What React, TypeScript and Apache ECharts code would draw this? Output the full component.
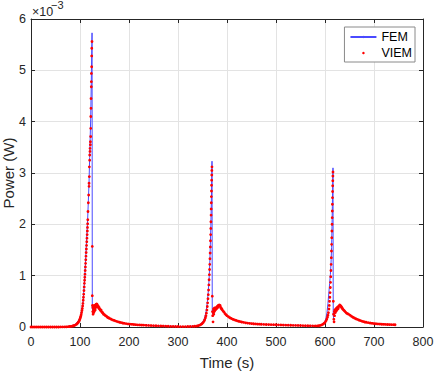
import React, { useEffect, useRef } from "react";
import * as echarts from "echarts";

// Values of power are given in units of 1e-3 W (the axis shows "×10^-3").
const xAxisRange = { min: 0, max: 800, interval: 100 };
const yAxisRange = { min: 0, max: 6, interval: 1 };
const yExponentBase = "×10";
const yExponent = "−3";

// FEM (blue line) — [time (s), power (1e-3 W)]
const femCycle1: [number, number][] = [
  [0, 0], [20, 0], [40, 0.001], [60, 0.003], [70, 0.007], [76, 0.012], [80, 0.017], [85, 0.03], [90, 0.052], [94, 0.085],
  [97, 0.125], [100, 0.185], [102, 0.245], [104, 0.34], [106, 0.48], [108, 0.72], [110, 1.02], [112, 1.42], [114, 1.8],
  [115.6, 2.1], [117, 2.45], [118.4, 2.8], [119.7, 3.3], [120.8, 3.7], [121.8, 4.05], [122.6, 4.5], [123.4, 5.0],
  [124.2, 5.5], [124.6, 5.73], [125.1, 0.35], [125.6, 0.42], [126.2, 0.3], [126.8, 0.38], [127.5, 0.33], [128.5, 0.39],
  [129.5, 0.36], [131, 0.41], [133, 0.43], [135, 0.44], [137, 0.41], [140, 0.36], [144, 0.31], [148, 0.26], [152, 0.22],
  [158, 0.18], [165, 0.14], [175, 0.11], [185, 0.085], [195, 0.066], [210, 0.049], [230, 0.036], [250, 0.026],
  [270, 0.018], [290, 0.012], [310, 0.009], [325, 0.012],
];
const femCycle2: [number, number][] = [
  [334, 0.017], [338, 0.025], [342, 0.038], [346, 0.058], [349, 0.085], [352, 0.125], [354, 0.17], [356, 0.24],
  [358, 0.34], [360, 0.5], [361.5, 0.66], [363, 0.86], [364, 1.04], [365, 1.3], [366, 1.6], [367, 1.98], [368, 2.4],
  [368.8, 2.85], [369.4, 3.23], [369.9, 0.3], [370.5, 0.25], [371.2, 0.33], [372, 0.27], [373, 0.34], [374, 0.31],
  [375.5, 0.36], [377, 0.35], [379, 0.39], [381, 0.4], [383, 0.42], [385, 0.42], [387, 0.39], [390, 0.35], [394, 0.3],
  [398, 0.25], [402, 0.21], [408, 0.17], [415, 0.14], [425, 0.11], [435, 0.09], [445, 0.075], [455, 0.063],
  [470, 0.053], [490, 0.046], [510, 0.04], [530, 0.034], [550, 0.029], [570, 0.023], [582, 0.021],
];
const femCycle3: [number, number][] = [
  [586, 0.024], [590, 0.033], [594, 0.05], [597, 0.072], [600, 0.11], [602, 0.17], [604, 0.28], [606, 0.46],
  [608, 0.68], [609.5, 0.85], [611, 1.02], [612.3, 1.24], [613.4, 1.55], [614.3, 1.95], [615, 2.35], [615.7, 2.75],
  [616.3, 3.1], [616.8, 0.25], [617.4, 0.18], [618.2, 0.28], [619, 0.22], [620, 0.31], [621.5, 0.29], [623, 0.35],
  [625, 0.36], [627, 0.39], [629, 0.41], [631, 0.43], [633, 0.41], [636, 0.37], [640, 0.32], [645, 0.27], [650, 0.235],
  [656, 0.2], [662, 0.168], [670, 0.132], [680, 0.1], [690, 0.081], [700, 0.068], [712, 0.057], [725, 0.05],
  [735, 0.046], [743, 0.044],
];

// VIEM (red dots) — [time (s), power (1e-3 W)]
const viemCycle1: [number, number][] = [
  [0, 0], [4, 0], [8, 0], [12, 0], [16, 0], [20, 0], [24, 0], [28, 0], [32, 0], [36, 0], [40, 0], [44, 0], [48, 0],
  [52, 0], [56, 0], [60, 0.001], [64, 0.002], [68, 0.003], [72, 0.004], [76, 0.006], [79, 0.009], [82, 0.013],
  [85, 0.019], [87, 0.025], [89, 0.032], [91, 0.042], [93, 0.055], [94.5, 0.068], [96, 0.085], [97, 0.1], [98, 0.115],
  [99, 0.135], [100, 0.16], [100.8, 0.185], [101.6, 0.21], [102.4, 0.24], [103.2, 0.28], [104, 0.32], [104.7, 0.36],
  [105.4, 0.41], [106, 0.46], [106.6, 0.52], [107.1, 0.58], [107.6, 0.64], [108.1, 0.71], [108.6, 0.78], [109, 0.85],
  [109.4, 0.91], [109.8, 0.97], [110.2, 1.03], [110.6, 1.1], [111, 1.17], [111.4, 1.24], [111.8, 1.31], [112.2, 1.38],
  [112.6, 1.45], [113, 1.52], [113.4, 1.59], [113.8, 1.66], [114.2, 1.73], [114.6, 1.8], [115, 1.87], [115.3, 1.94],
  [115.6, 2.01], [115.9, 2.09], [116.3, 2.25], [117, 2.42], [117.7, 2.57], [118.4, 2.74], [118.5, 2.8], [119, 2.93],
  [119.1, 3.12], [119.7, 3.25], [119.8, 3.35], [120.4, 3.42], [120.5, 3.48], [121.1, 3.55], [121.2, 3.61],
  [121.8, 3.71], [121.9, 3.87], [122, 4.1], [122.4, 4.26], [122.5, 4.45], [123.1, 4.68], [123.2, 4.78], [123.3, 4.94],
  [123.8, 5.07], [123.9, 5.28], [124, 5.43], [124.5, 5.56], [125.1, 1.57], [125.1, 0.61], [125.5, 0.42], [126, 0.3],
  [126.3, 0.38], [126.7, 0.25], [127, 0.41], [127.4, 0.33], [127.8, 0.28], [128.2, 0.4], [128.6, 0.35], [129, 0.3],
  [129.5, 0.42], [130, 0.36], [130.5, 0.4], [131, 0.33], [131.5, 0.43], [132, 0.38], [132.5, 0.41], [133, 0.44],
  [133.5, 0.4], [134, 0.45], [134.5, 0.42], [135, 0.44], [136, 0.4], [137, 0.41], [138, 0.37], [139, 0.38], [140, 0.35],
  [141, 0.34], [142, 0.32], [143, 0.33], [144, 0.3], [145, 0.29], [146, 0.28], [147, 0.27], [148, 0.25], [150, 0.24],
  [152, 0.22], [154, 0.21], [156, 0.19], [158, 0.18], [160, 0.17], [163, 0.155], [166, 0.14], [169, 0.13], [172, 0.12],
  [175, 0.11], [178, 0.1], [181, 0.092], [184, 0.085], [187, 0.078], [190, 0.072], [194, 0.066], [198, 0.06],
  [202, 0.056], [206, 0.052], [210, 0.048], [214, 0.045], [218, 0.042], [222, 0.04], [226, 0.038], [230, 0.036],
  [235, 0.033], [240, 0.03], [245, 0.028], [250, 0.026], [255, 0.024], [260, 0.022], [265, 0.02], [270, 0.018],
  [275, 0.016], [280, 0.014], [285, 0.012], [290, 0.011], [295, 0.01], [300, 0.009], [305, 0.008], [310, 0.008],
  [315, 0.008], [320, 0.009], [325, 0.01], [330, 0.012],
];
const viemCycle2: [number, number][] = [
  [334, 0.014], [338, 0.018], [341, 0.025], [344, 0.035], [347, 0.05], [349, 0.065], [351, 0.085], [353, 0.11],
  [354.5, 0.14], [356, 0.18], [357, 0.22], [358, 0.27], [359, 0.33], [359.8, 0.4], [360.5, 0.47], [361.2, 0.55],
  [361.8, 0.63], [362.4, 0.72], [363, 0.82], [363.5, 0.92], [364, 1.02], [364.4, 1.12], [364.8, 1.22], [365.2, 1.33],
  [365.6, 1.44], [366, 1.56], [366.3, 1.68], [366.6, 1.8], [366.9, 1.92], [367.2, 2.05], [367.5, 2.18], [367.7, 2.3],
  [367.9, 2.42], [368.1, 2.54], [368.3, 2.65], [368.5, 2.76], [368.7, 2.86], [368.9, 2.96], [369.1, 3.05],
  [369.3, 3.12], [370, 0.6], [370.3, 0.3], [370.8, 0.22], [371.5, 0.1], [372, 0.28], [372.5, 0.35], [373, 0.25],
  [373.5, 0.33], [374, 0.3], [374.5, 0.37], [375, 0.32], [376, 0.36], [377, 0.34], [378, 0.38], [379, 0.36], [380, 0.4],
  [381, 0.38], [382, 0.42], [383, 0.41], [384, 0.43], [385, 0.41], [386, 0.42], [387, 0.38], [388, 0.37], [389, 0.35],
  [390, 0.34], [392, 0.31], [394, 0.29], [396, 0.26], [398, 0.24], [400, 0.22], [403, 0.2], [406, 0.18], [409, 0.165],
  [412, 0.15], [415, 0.14], [418, 0.13], [421, 0.12], [424, 0.112], [427, 0.105], [430, 0.098], [434, 0.09],
  [438, 0.082], [442, 0.076], [446, 0.071], [450, 0.067], [454, 0.064], [458, 0.06], [462, 0.057], [466, 0.055],
  [470, 0.053], [475, 0.051], [480, 0.049], [485, 0.047], [490, 0.046], [495, 0.045], [500, 0.044], [505, 0.042],
  [510, 0.04], [515, 0.038], [520, 0.036], [525, 0.035], [530, 0.034], [535, 0.032], [540, 0.031], [545, 0.03],
  [550, 0.029], [555, 0.027], [560, 0.026], [565, 0.024], [570, 0.023], [575, 0.022], [580, 0.021], [584, 0.022],
];
const viemCycle3: [number, number][] = [
  [587, 0.025], [590, 0.03], [593, 0.04], [596, 0.055], [598, 0.07], [600, 0.09], [602, 0.12], [603.5, 0.15],
  [605, 0.19], [606, 0.23], [607, 0.28], [608, 0.35], [608.7, 0.42], [609.3, 0.5], [609.9, 0.58], [610.4, 0.67],
  [610.9, 0.77], [611.3, 0.87], [611.7, 0.98], [612.1, 1.1], [612.5, 1.22], [612.9, 1.35], [613.2, 1.48],
  [613.5, 1.61], [613.8, 1.74], [614.1, 1.87], [614.4, 2.0], [614.7, 2.13], [614.9, 2.26], [615.1, 2.39],
  [615.3, 2.52], [615.5, 2.64], [615.7, 2.75], [615.9, 2.85], [616.1, 2.94], [616.3, 3.02], [617, 0.5], [617.5, 0.25],
  [618, 0.15], [618.5, 0.1], [619, 0.3], [619.5, 0.22], [620, 0.33], [621, 0.28], [622, 0.35], [623, 0.31], [624, 0.37],
  [625, 0.34], [626, 0.39], [627, 0.36], [628, 0.4], [629, 0.41], [630, 0.43], [631, 0.42], [632, 0.41], [633, 0.4],
  [634, 0.38], [635, 0.37], [636, 0.35], [638, 0.33], [640, 0.31], [642, 0.29], [644, 0.27], [646, 0.26], [648, 0.25],
  [651, 0.23], [654, 0.21], [657, 0.19], [660, 0.175], [663, 0.16], [666, 0.148], [669, 0.136], [672, 0.125],
  [675, 0.115], [678, 0.106], [681, 0.098], [684, 0.092], [688, 0.085], [692, 0.078], [696, 0.072], [700, 0.067],
  [704, 0.063], [708, 0.06], [712, 0.057], [716, 0.054], [720, 0.052], [724, 0.05], [728, 0.048], [732, 0.047],
  [736, 0.046], [740, 0.045], [743, 0.044],
];

const femData = [...femCycle1, ...femCycle2, ...femCycle3];
const viemData = [...viemCycle1, ...viemCycle2, ...viemCycle3];

const FONT = "Liberation Sans";
const INK = "#262626";
const GRID = "#e3e3e3";

export default function App() {
  const ref = useRef<HTMLDivElement>(null);
  useEffect(() => {
    if (!ref.current) return;
    const chart = echarts.init(ref.current, undefined, { renderer: "svg" });
    const boxAxisX = {
      type: "value" as const,
      ...xAxisRange,
      axisLine: { show: true, onZero: false, lineStyle: { color: INK, width: 1 } },
      axisTick: { show: true, inside: true, length: 4, lineStyle: { color: INK } },
    };
    const boxAxisY = {
      type: "value" as const,
      ...yAxisRange,
      axisLine: { show: true, onZero: false, lineStyle: { color: INK, width: 1 } },
      axisTick: { show: true, inside: true, length: 4, lineStyle: { color: INK } },
    };
    chart.setOption({
      animation: false,
      backgroundColor: "#ffffff",
      textStyle: { fontFamily: FONT },
      grid: { left: 31, right: 13, top: 19, bottom: 44, containLabel: false, outerBoundsMode: "none" },
      xAxis: [
        {
          ...boxAxisX,
          position: "bottom",
          name: "Time (s)",
          nameLocation: "middle",
          nameGap: 28,
          nameMoveOverlap: false,
          nameTextStyle: { fontSize: 15, color: INK, fontFamily: FONT },
          axisLabel: { fontSize: 12.5, color: INK, margin: 8, fontFamily: FONT },
          splitLine: { show: true, lineStyle: { color: GRID, width: 1 } },
        },
        {
          ...boxAxisX,
          position: "top",
          axisLabel: { show: false },
          splitLine: { show: false },
        },
      ],
      yAxis: [
        {
          ...boxAxisY,
          position: "left",
          name: "Power (W)",
          nameLocation: "middle",
          nameGap: 15,
          nameMoveOverlap: false,
          nameTextStyle: { fontSize: 15, color: INK, fontFamily: FONT },
          axisLabel: { fontSize: 12.5, color: INK, margin: 5, fontFamily: FONT },
          splitLine: { show: true, lineStyle: { color: GRID, width: 1 } },
        },
        {
          ...boxAxisY,
          position: "right",
          axisLabel: { show: false },
          splitLine: { show: false },
        },
      ],
      legend: {
        orient: "vertical",
        right: 21,
        top: 27,
        data: [{ name: "FEM" }, { name: "VIEM", icon: "circle" }],
        itemWidth: 26,
        itemHeight: 2.5,
        itemGap: 0,
        padding: [2, 3, 1, 5],
        backgroundColor: "#ffffff",
        borderColor: "#8a8a8a",
        borderWidth: 1,
        borderRadius: 0,
        itemStyle: { borderWidth: 0 },
        textStyle: { fontSize: 12.5, color: "#000000", lineHeight: 16, fontFamily: FONT },
      },
      graphic: [
        {
          type: "text",
          x: 32,
          y: 11.5,
          style: { text: yExponentBase, fontSize: 12.5, fill: INK, fontFamily: FONT, align: "left", verticalAlign: "middle" },
        },
        {
          type: "text",
          x: 51,
          y: 5,
          style: { text: yExponent, fontSize: 11, fill: INK, fontFamily: FONT, align: "left", verticalAlign: "middle" },
        },
      ],
      series: [
        {
          name: "FEM",
          type: "line",
          data: femData,
          xAxisIndex: 0,
          yAxisIndex: 0,
          showSymbol: false,
          symbol: "none",
          lineStyle: { color: "#4a4aff", width: 1 },
          itemStyle: { color: "#4a4aff" },
          z: 2,
        },
        {
          name: "VIEM",
          type: "scatter",
          data: viemData,
          xAxisIndex: 0,
          yAxisIndex: 0,
          symbol: "circle",
          symbolSize: 2.8,
          clip: false,
          itemStyle: { color: "#ff0000", opacity: 1, borderWidth: 0 },
          z: 3,
        },
      ],
    });
    return () => chart.dispose();
  }, []);
  return <div ref={ref} style={{ position: "absolute", left: 0, top: 0, width: 436, height: 371 }} />;
}
